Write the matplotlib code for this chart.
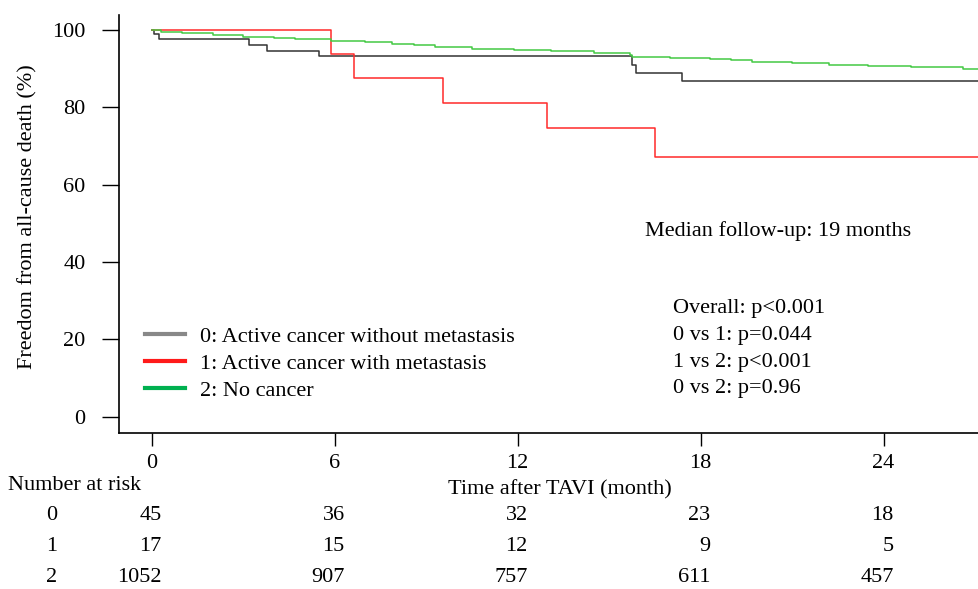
import matplotlib
matplotlib.use("Agg")
import matplotlib.pyplot as plt
from matplotlib.lines import Line2D
from matplotlib.transforms import blended_transform_factory

plt.rcParams['font.family'] = ['Liberation Serif', 'DejaVu Serif']

# ---- data ----
t0 = [0, 0.08, 0.25, 3.2, 3.8, 5.5, 15.75, 15.9, 17.4, 27.2]
s0 = [100, 98.9, 97.6, 96.0, 94.6, 93.2, 91.0, 89.0, 86.8, 86.8]

t1 = [0, 5.9, 6.63, 9.57, 12.97, 16.5, 27.2]
s1 = [100, 93.9, 87.6, 81.2, 74.6, 67.1, 67.1]

t2 = [0, 0.3, 1.0, 2.0, 3.0, 4.0, 4.7, 5.9, 7.0, 7.9, 8.6, 9.3, 10.5, 11.9,
      13.1, 14.5, 15.7, 15.75, 17.0, 18.3, 19.0, 19.7, 21.0, 22.2, 23.5,
      24.9, 26.6, 27.2]
s2 = [100, 99.6, 99.2, 98.8, 98.3, 97.9, 97.6, 97.1, 96.8, 96.5, 96.1, 95.7,
      95.2, 94.7, 94.5, 94.1, 93.6, 92.9, 92.8, 92.6, 92.2, 91.8, 91.4, 90.9,
      90.7, 90.5, 90.0, 90.0]

group_labels = ["0: Active cancer without metastasis",
                "1: Active cancer with metastasis",
                "2: No cancer"]
xticks = [0, 6, 12, 18, 24]
yticks = [0, 20, 40, 60, 80, 100]
risk_groups = ["0", "1", "2"]
risk_0 = [45, 36, 32, 23, 18]
risk_1 = [17, 15, 12, 9, 5]
risk_2 = [1052, 907, 757, 611, 457]

FS = 16
W, H = 979, 589
fig = plt.figure(figsize=(W / 100, H / 100), dpi=100)
ax_w_frac = 1 - 119 / W + 0.01
ax = fig.add_axes([119 / W, 1 - 433 / H, ax_w_frac, (433 - 15) / H])

ax.plot(t0, s0, drawstyle='steps-post', color='#333333', lw=1.1)
ax.plot(t1, s1, drawstyle='steps-post', color='#ff2a2a', lw=1.1)
ax.plot(t2, s2, drawstyle='steps-post', color='#44c944', lw=1.1)

# 0 month at px 151.5, 30.5 px per month
ax_w_px = ax_w_frac * W
x_left = -(151.5 - 119) / 30.5
ax.set_xlim(x_left, x_left + ax_w_px / 30.5)
ax.set_ylim(-(433 - 416.7) / 3.867, 100 + (30 - 15) / 3.867)

for sp in ['top', 'right']:
    ax.spines[sp].set_visible(False)
ax.spines['left'].set_linewidth(1.2)
ax.spines['bottom'].set_linewidth(1.2)

ax.set_xticks(xticks)
ax.set_yticks(yticks)
ax.tick_params(axis='x', length=9, width=1.0, pad=6, labelsize=FS)
ax.tick_params(axis='y', length=12, width=1.0, pad=12, labelsize=FS)

# legend
handles = [Line2D([0], [0], color='#888888', lw=3),
           Line2D([0], [0], color='#ff1a1a', lw=3),
           Line2D([0], [0], color='#00b050', lw=3)]
fig.legend(handles, group_labels, loc='upper left',
           bbox_to_anchor=(145 / W, 1 - 326 / H), frameon=False, fontsize=FS,
           handlelength=1.8, handletextpad=0.68, labelspacing=0.29,
           borderaxespad=0, borderpad=0)

# annotations
fig.text(645 / W, 1 - 231 / H, "Median follow-up: 19 months", fontsize=FS,
         ha='left', va='center')
ptexts = ["Overall: p<0.001", "0 vs 1: p=0.044", "1 vs 2: p<0.001", "0 vs 2: p=0.96"]
for i, s in enumerate(ptexts):
    fig.text(673 / W, 1 - (309 + 26.5 * i) / H, s, fontsize=FS, ha='left', va='center')

fig.text(28 / W, 1 - 217 / H, "Freedom from all-cause death (%)", fontsize=FS,
         rotation=90, ha='center', va='center')
fig.text(560 / W, 1 - 490 / H, "Time after TAVI (month)", fontsize=FS,
         ha='center', va='center')

# number at risk table
fig.text(8 / W, 1 - 485 / H, "Number at risk", fontsize=FS, ha='left', va='center')
tr = blended_transform_factory(ax.transData, fig.transFigure)
for row, (g, vals) in enumerate(zip(risk_groups, [risk_0, risk_1, risk_2])):
    y = 1 - (515 + 31.5 * row) / H
    fig.text(52 / W, y, g, fontsize=FS, ha='center', va='center')
    for xt, v in zip(xticks, vals):
        ax.text(xt + 0.33, y, str(v), transform=tr, fontsize=FS,
                ha='right', va='center', clip_on=False)

fig.savefig("out.png", dpi=100)
